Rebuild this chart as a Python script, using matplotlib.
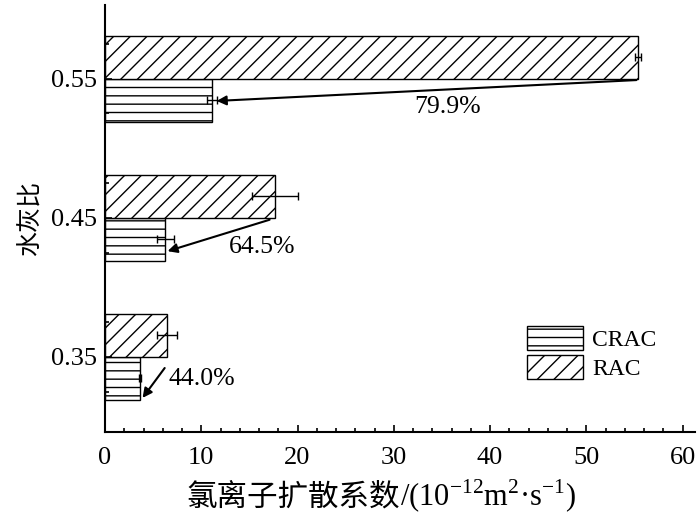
import matplotlib.pyplot as plt
from matplotlib.ticker import MultipleLocator, FixedLocator

plt.rcParams['font.family'] = ['Liberation Serif', 'Noto Sans CJK SC']
plt.rcParams['mathtext.fontset'] = 'custom'
plt.rcParams['mathtext.rm'] = 'Liberation Serif'
plt.rcParams['hatch.linewidth'] = 1.0

# 水灰比
wc = [0.35, 0.45, 0.55]
rac = [6.45, 17.65, 55.4]
rac_err = [1.0, 2.4, 0.3]
crac = [3.62, 6.27, 11.1]
crac_err = [0.1, 0.9, 0.5]
reduce_txt = ['44.0%', '64.5%', '79.9%']

h = 0.031

fig = plt.figure(figsize=(7, 5.17), dpi=100)
ax = fig.add_axes([0.15, 0.1644, 0.843, 0.826])

y_rac = [y + h / 2 for y in wc]
y_crac = [y - h / 2 for y in wc]

ax.barh(y_crac, crac, height=h, color='white', edgecolor='black',
        hatch='--', linewidth=1.0, label='CRAC')
ax.barh(y_rac, rac, height=h, color='white', edgecolor='black',
        hatch='//', linewidth=1.0, label='RAC')
ax.errorbar(crac, y_crac, xerr=crac_err, fmt='none', ecolor='black',
            elinewidth=1.0, capsize=3, capthick=1.0)
ax.errorbar(rac, y_rac, xerr=rac_err, fmt='none', ecolor='black',
            elinewidth=1.0, capsize=3, capthick=1.0)

# 箭头和降低百分比
arrows = [
    ((6.2, 0.342), (3.9, 0.3205), (6.6, 0.334), 'left'),
    ((17.1, 0.4486), (6.5, 0.426), (16.3, 0.429), 'center'),
    ((55.2, 0.549), (11.6, 0.534), (35.6, 0.5295), 'center'),
]
for (start, end, tpos, ha), txt in zip(arrows, reduce_txt):
    ax.annotate('', xy=end, xytext=start,
                arrowprops=dict(arrowstyle='-|>', color='black', lw=1.5,
                                mutation_scale=14, shrinkA=0, shrinkB=0))
    ax.text(tpos[0], tpos[1], txt, fontsize=18.5, ha=ha, va='center')

ax.set_xlim(0, 61.3)
ax.set_ylim(0.296, 0.603)
ax.set_yticks(wc)
ax.set_yticklabels(['0.35', '0.45', '0.55'])
ax.yaxis.set_minor_locator(FixedLocator([0.325, 0.375, 0.425, 0.475, 0.525, 0.575]))
ax.xaxis.set_major_locator(MultipleLocator(10))
ax.xaxis.set_minor_locator(MultipleLocator(2))

ax.spines['top'].set_visible(False)
ax.spines['right'].set_visible(False)
ax.spines['left'].set_linewidth(1.5)
ax.spines['bottom'].set_linewidth(1.5)
ax.tick_params(which='both', direction='in', width=1.2)
ax.tick_params(which='major', length=5)
ax.tick_params(which='minor', length=3)
ax.tick_params(axis='x', labelsize=19, pad=11)
ax.tick_params(axis='y', labelsize=19, pad=6)

# x轴标题: 中文部分 + 单位部分
ax.text(0.5, -0.173, '氯离子扩散系数', transform=ax.transAxes, fontsize=22,
        ha='right', va='baseline')
ax.text(0.5, -0.173, r'/(10$^{-12}$m$^{2}$·s$^{-1}$)', transform=ax.transAxes,
        fontsize=22, ha='left', va='baseline')
ax.set_ylabel('水灰比', fontsize=18, labelpad=6)

ax.legend(loc='lower left', bbox_to_anchor=(0.715, 0.122), frameon=False,
          fontsize=17, handlelength=2.37, handleheight=1.15, labelspacing=0.17,
          handletextpad=0.4, borderpad=0, borderaxespad=0)

plt.savefig('out.png', dpi=100)
